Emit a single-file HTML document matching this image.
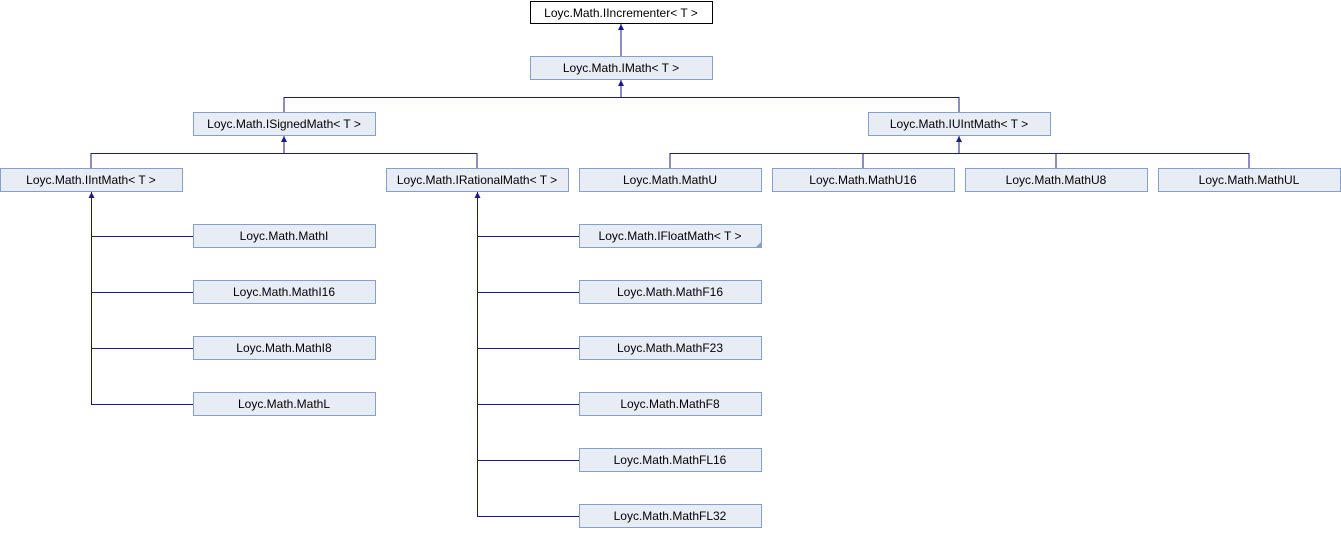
<!DOCTYPE html>
<html><head><meta charset="utf-8"><style>
html,body{margin:0;padding:0;background:#fff;}
svg text{font-family:"Liberation Sans",Arial,sans-serif;font-size:12px;fill:#000;}
</style></head><body>
<svg width="1341" height="528" xmlns="http://www.w3.org/2000/svg">
<g stroke="#1a1a8c" stroke-width="1" fill="none" shape-rendering="crispEdges">
<line x1="621" y1="24" x2="621" y2="56"/>
<line x1="621" y1="80" x2="621" y2="97"/>
<line x1="284" y1="97.5" x2="959" y2="97.5"/>
<line x1="284" y1="97" x2="284" y2="112"/>
<line x1="959" y1="97" x2="959" y2="112"/>
<line x1="284" y1="136" x2="284" y2="153"/>
<line x1="91" y1="153.5" x2="477" y2="153.5"/>
<line x1="91" y1="153" x2="91" y2="168"/>
<line x1="477" y1="153" x2="477" y2="168"/>
<line x1="959" y1="136" x2="959" y2="153"/>
<line x1="670" y1="153.5" x2="1249" y2="153.5"/>
<line x1="670" y1="153" x2="670" y2="168"/>
<line x1="863" y1="153" x2="863" y2="168"/>
<line x1="1056" y1="153" x2="1056" y2="168"/>
<line x1="1249" y1="153" x2="1249" y2="168"/>
<line x1="91.5" y1="192" x2="91.5" y2="404"/>
<line x1="91" y1="236.5" x2="193" y2="236.5"/>
<line x1="91" y1="292.5" x2="193" y2="292.5"/>
<line x1="91" y1="348.5" x2="193" y2="348.5"/>
<line x1="91" y1="404.5" x2="193" y2="404.5"/>
<line x1="477.5" y1="192" x2="477.5" y2="516"/>
<line x1="477" y1="236.5" x2="579" y2="236.5"/>
<line x1="477" y1="292.5" x2="579" y2="292.5"/>
<line x1="477" y1="348.5" x2="579" y2="348.5"/>
<line x1="477" y1="404.5" x2="579" y2="404.5"/>
<line x1="477" y1="460.5" x2="579" y2="460.5"/>
<line x1="477" y1="516.5" x2="579" y2="516.5"/>
</g>
<g fill="#1a1a8c">
<polygon points="621,24 618,30 624,30"/>
<polygon points="621,80 618,86 624,86"/>
<polygon points="284,136 281,142 287,142"/>
<polygon points="959,136 956,142 962,142"/>
<polygon points="91.5,192 88.5,198 94.5,198"/>
<polygon points="477.5,192 474.5,198 480.5,198"/>
</g>
<g stroke="#84a0d0" fill="#e8ecf4" shape-rendering="crispEdges">
<rect x="530.5" y="56.5" width="182" height="23"/>
<rect x="193.5" y="112.5" width="182" height="23"/>
<rect x="868.5" y="112.5" width="182" height="23"/>
<rect x="0.5" y="168.5" width="182" height="23"/>
<rect x="386.5" y="168.5" width="182" height="23"/>
<rect x="579.5" y="168.5" width="182" height="23"/>
<rect x="772.5" y="168.5" width="182" height="23"/>
<rect x="965.5" y="168.5" width="182" height="23"/>
<rect x="1158.5" y="168.5" width="182" height="23"/>
<rect x="193.5" y="224.5" width="182" height="23"/>
<rect x="193.5" y="280.5" width="182" height="23"/>
<rect x="193.5" y="336.5" width="182" height="23"/>
<rect x="193.5" y="392.5" width="182" height="23"/>
<rect x="579.5" y="224.5" width="182" height="23"/>
<rect x="579.5" y="280.5" width="182" height="23"/>
<rect x="579.5" y="336.5" width="182" height="23"/>
<rect x="579.5" y="392.5" width="182" height="23"/>
<rect x="579.5" y="448.5" width="182" height="23"/>
<rect x="579.5" y="504.5" width="182" height="23"/>
</g>
<rect x="530.5" y="1.5" width="182" height="22" fill="#fff" stroke="#000" shape-rendering="crispEdges"/>
<polygon points="761,242 761,247 756,247" fill="#8ca0c0"/>
<g text-anchor="middle">
<text x="621" y="17">Loyc.Math.IIncrementer&lt; T &gt;</text>
<text x="621" y="72">Loyc.Math.IMath&lt; T &gt;</text>
<text x="284" y="128">Loyc.Math.ISignedMath&lt; T &gt;</text>
<text x="959" y="128">Loyc.Math.IUIntMath&lt; T &gt;</text>
<text x="91" y="184">Loyc.Math.IIntMath&lt; T &gt;</text>
<text x="477" y="184">Loyc.Math.IRationalMath&lt; T &gt;</text>
<text x="670" y="184">Loyc.Math.MathU</text>
<text x="863" y="184">Loyc.Math.MathU16</text>
<text x="1056" y="184">Loyc.Math.MathU8</text>
<text x="1249" y="184">Loyc.Math.MathUL</text>
<text x="284" y="240">Loyc.Math.MathI</text>
<text x="284" y="296">Loyc.Math.MathI16</text>
<text x="284" y="352">Loyc.Math.MathI8</text>
<text x="284" y="408">Loyc.Math.MathL</text>
<text x="670" y="240">Loyc.Math.IFloatMath&lt; T &gt;</text>
<text x="670" y="296">Loyc.Math.MathF16</text>
<text x="670" y="352">Loyc.Math.MathF23</text>
<text x="670" y="408">Loyc.Math.MathF8</text>
<text x="670" y="464">Loyc.Math.MathFL16</text>
<text x="670" y="520">Loyc.Math.MathFL32</text>
</g>
</svg>
</body></html>
